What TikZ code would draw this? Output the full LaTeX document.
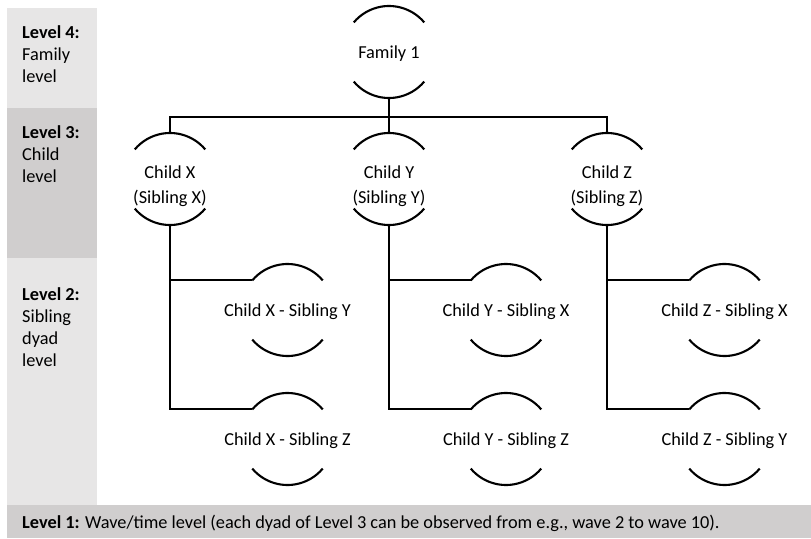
\documentclass[tikz,border=0pt]{standalone}
\usepackage{fontspec}
\setmainfont{Carlito}
\begin{document}
\begin{tikzpicture}[x=1pt,y=1pt,
  every node/.style={font=\fontsize{18.3}{22}\selectfont},
  unit/.style={circle, minimum size=92pt, inner sep=0pt, outer sep=0pt},
  ring/.style={line width=2.1pt},
  conn/.style={line width=2.1pt},
  lightpanel/.style={fill=panelA, draw=none, inner sep=0pt, outer sep=0pt, anchor=north west},
  darkpanel/.style={fill=panelB, draw=none, inner sep=0pt, outer sep=0pt, anchor=north west},
  leveltext/.style={anchor=base west, align=left, inner sep=0pt},
  pairtext/.style={align=center, inner sep=0pt, yshift=-2pt, font=\fontsize{18.3}{25}\selectfont}
]
\definecolor{panelA}{HTML}{E7E6E6}
\definecolor{panelB}{HTML}{D0CECE}
\useasboundingbox (0,0) rectangle (811,-538);
\fill[white] (0,0) rectangle (811,-538);

% level bands on the left and the wave band at the bottom
\node[lightpanel, minimum width=90pt, minimum height=100pt] (band4) at (7,-8) {};
\node[darkpanel,  minimum width=90pt, minimum height=150pt] (band3) at (7,-108) {};
\node[lightpanel, minimum width=90pt, minimum height=247pt] (band2) at (7,-258) {};
\node[darkpanel,  minimum width=804pt, minimum height=33pt] (band1) at (7,-505) {};

% multi-line texts sit on the baseline of their last line
\node[leveltext] (t4) at (22,-82) {\textbf{Level 4:}\\Family\\level};
\node[leveltext] (t3) at (22,-182) {\textbf{Level 3:}\\Child\\level};
\node[leveltext] (t2) at (22,-366) {\textbf{Level 2:}\\Sibling\\dyad\\level};
\node[leveltext] (t1) at (22,-528) {\textbf{Level 1:} Wave/time level (each dyad of Level 3 can be observed from e.g., wave 2 to wave 10).};

% units of analysis
\node[unit, label={[name=famt, pairtext]center:Family 1}] (fam) at (389,-52) {};
\node[unit, label={[name=cxt, pairtext, yshift=-5pt]center:Child X\\(Sibling X)}] (cx) at (170,-179) {};
\node[unit, label={[name=cyt, pairtext, yshift=-5pt]center:Child Y\\(Sibling Y)}] (cy) at (389,-179) {};
\node[unit, label={[name=czt, pairtext, yshift=-5pt]center:Child Z\\(Sibling Z)}] (cz) at (607,-179) {};

\node[unit, label={[name=dxyt, pairtext]center:Child X - Sibling Y}] (dxy) at (287.5,-310) {};
\node[unit, label={[name=dxzt, pairtext]center:Child X - Sibling Z}] (dxz) at (287.5,-439) {};
\node[unit, label={[name=dyxt, pairtext]center:Child Y - Sibling X}] (dyx) at (506,-310) {};
\node[unit, label={[name=dyzt, pairtext]center:Child Y - Sibling Z}] (dyz) at (506,-439) {};
\node[unit, label={[name=dzxt, pairtext]center:Child Z - Sibling X}] (dzx) at (724.5,-310) {};
\node[unit, label={[name=dzyt, pairtext]center:Child Z - Sibling Y}] (dzy) at (724.5,-439) {};

% upper and lower half rings around every unit
\foreach \n in {fam,cx,cy,cz,dxy,dxz,dyx,dyz,dzx,dzy}{
  \draw[ring] (\n.40) arc[start angle=40, end angle=140, radius=46pt];
  \draw[ring] (\n.220) arc[start angle=220, end angle=320, radius=46pt];
}

% family to children
\draw[conn] (fam.south) -- (cy.north);
\draw[conn] (cx.north) -- ++(0,16) -| (cz.north);

% children to sibling dyads
\draw[conn] (cx.south) |- (dxy.140);
\draw[conn] (cx.south) |- (dxz.140);
\draw[conn] (cy.south) |- (dyx.140);
\draw[conn] (cy.south) |- (dyz.140);
\draw[conn] (cz.south) |- (dzx.140);
\draw[conn] (cz.south) |- (dzy.140);
\end{tikzpicture}
\end{document}
